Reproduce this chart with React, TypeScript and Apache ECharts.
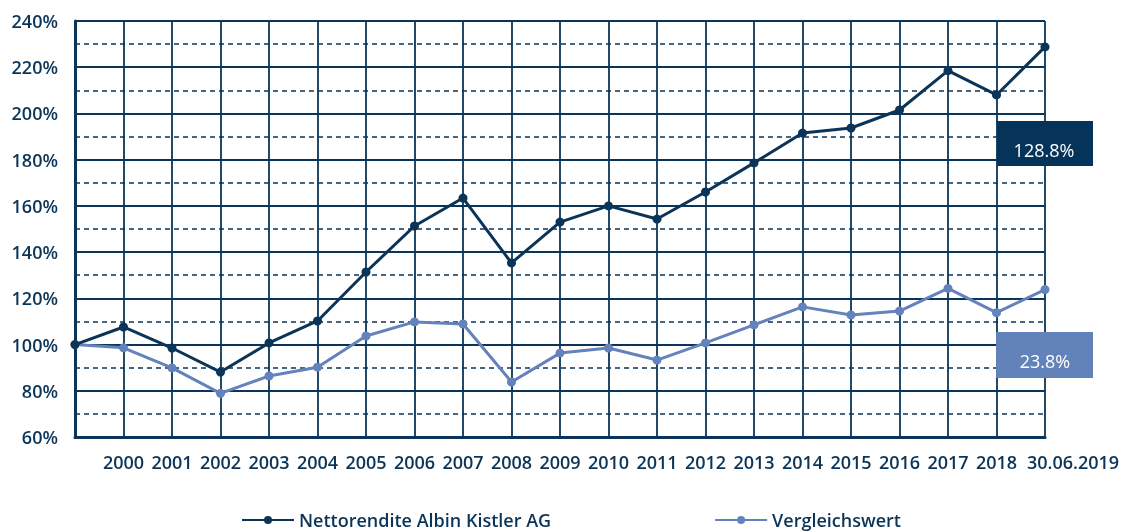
import React, { useEffect, useRef } from "react";
import * as echarts from "echarts";

const categories = ["", "2000", "2001", "2002", "2003", "2004", "2005", "2006", "2007", "2008", "2009", "2010", "2011", "2012", "2013", "2014", "2015", "2016", "2017", "2018", "30.06.2019"];
const nettoName = "Nettorendite Albin Kistler AG";
const vergleichName = "Vergleichswert";
const nettoValues = [100, 107.6, 98.5, 88.1, 100.7, 110.2, 131.4, 151.3, 163.4, 135.3, 153.0, 160.0, 154.3, 166.0, 178.6, 191.5, 193.7, 201.5, 218.5, 208.0, 228.8];
const vergleichValues = [100, 98.6, 89.9, 78.9, 86.4, 90.2, 103.7, 109.8, 108.9, 83.8, 96.3, 98.5, 93.3, 100.7, 108.5, 116.3, 112.8, 114.5, 124.3, 113.8, 123.8];
const nettoLabel = "128.8%";
const vergleichLabel = "23.8%";

const DARK = "#0b3558";
const LIGHT = "#6482bb";
const FONT = "'Open Sans', Lato, sans-serif";
const ICON = "path://M0,9 L52,9 L52,11 L0,11 Z M26,6 A4,4 0 1 1 26,14 A4,4 0 1 1 26,6 Z";

export default function App() {
  const ref = useRef<HTMLDivElement>(null);
  useEffect(() => {
    if (!ref.current) return;
    const chart = echarts.init(ref.current, null, { renderer: "svg" });
    const lastIdx = categories.length - 1;
    chart.setOption({
      animation: false,
      textStyle: { fontFamily: FONT },
      grid: { left: 75, right: 80, top: 21, bottom: 95, containLabel: false },
      legend: {
        top: 506,
        left: 237,
        padding: 5,
        itemGap: 164,
        itemWidth: 52,
        itemHeight: 20,
        textStyle: { color: DARK, fontSize: 18, fontFamily: FONT, fontWeight: 600 },
        data: [
          { name: nettoName, icon: ICON },
          { name: vergleichName, icon: ICON },
        ],
      },
      xAxis: {
        type: "category",
        data: categories,
        boundaryGap: false,
        axisLine: { show: true, lineStyle: { color: DARK, width: 3 } },
        axisTick: { show: false },
        axisLabel: {
          color: DARK,
          fontSize: 18,
          fontWeight: 600,
          margin: 16,
          fontFamily: FONT,
          interval: 0,
          formatter: (v: string, i: number) => (i === lastIdx ? "{last|" + v + "}" : v),
          rich: { last: { fontSize: 18, fontWeight: 600, color: DARK, fontFamily: FONT, padding: [0, 0, 0, 56] } },
        },
        splitLine: { show: true, lineStyle: { color: DARK, width: 1.8 } },
      },
      yAxis: {
        type: "value",
        min: 60,
        max: 240,
        interval: 20,
        axisLine: { show: true, lineStyle: { color: DARK, width: 3 } },
        axisTick: { show: false },
        axisLabel: { color: DARK, fontSize: 18, fontWeight: 600, margin: 17, fontFamily: FONT, formatter: "{value}%" },
        splitLine: { show: true, lineStyle: { color: DARK, width: 1.8 } },
        minorTick: { show: false, splitNumber: 2 },
        minorSplitLine: { show: true, lineStyle: { color: DARK, width: 1.5, type: [5, 4] } },
      },
      series: [
        {
          name: nettoName,
          type: "line",
          data: nettoValues,
          symbol: "circle",
          symbolSize: 9,
          lineStyle: { color: DARK, width: 3 },
          itemStyle: { color: DARK },
          z: 5,
        },
        {
          name: vergleichName,
          type: "line",
          data: vergleichValues,
          symbol: "circle",
          symbolSize: 9,
          lineStyle: { color: LIGHT, width: 3 },
          itemStyle: { color: LIGHT },
          z: 4,
        },
      ],
      graphic: [
        {
          type: "rect",
          left: 997,
          top: 121,
          shape: { width: 96, height: 45 },
          style: { fill: "#06335a" },
          z: 10,
        },
        {
          type: "text",
          x: 1044,
          y: 150,
          style: { text: nettoLabel, fill: "#ffffff", font: `18px ${FONT}`, align: "center", verticalAlign: "middle" },
          z: 11,
        },
        {
          type: "rect",
          left: 996,
          top: 332,
          shape: { width: 97, height: 46 },
          style: { fill: "#6283ba" },
          z: 10,
        },
        {
          type: "text",
          x: 1045,
          y: 361,
          style: { text: vergleichLabel, fill: "#ffffff", font: `18px ${FONT}`, align: "center", verticalAlign: "middle" },
          z: 11,
        },
      ],
    });
    return () => chart.dispose();
  }, []);
  return <div ref={ref} style={{ position: "fixed", left: 0, top: 0, width: 1125, height: 532 }} />;
}
